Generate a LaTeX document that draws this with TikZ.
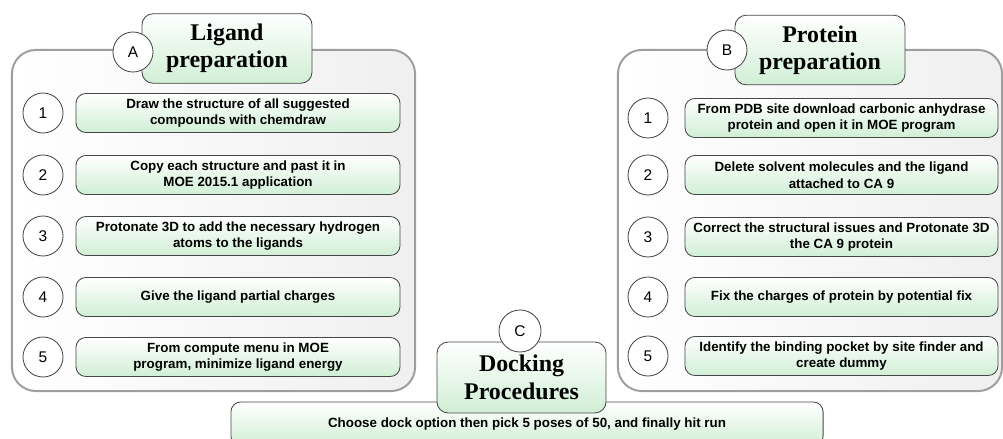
\documentclass[tikz,border=0pt]{standalone}
\usepackage{fontspec}
\setmainfont{Liberation Serif}
\setsansfont{Liberation Sans}
\usetikzlibrary{positioning}
\definecolor{mint}{RGB}{208,239,213}
\colorlet{panelR}{black!6}
\colorlet{rule}{black!72}
\colorlet{frame}{black!38}
\tikzset{
  panel/.style  ={draw=frame, line width=1.4pt, rounded corners=17pt,
                  left color=white, right color=panelR,
                  minimum width=#1, minimum height=8.525cm, inner sep=0pt},
  card/.style   ={draw=rule, rounded corners=7pt, line width=0.6pt,
                  top color=white, bottom color=mint, inner sep=0pt,
                  align=center},
  stepbox/.style={card, minimum width=#1, minimum height=0.975cm,
                  font=\sffamily\bfseries\fontsize{9.5}{11.7}\selectfont},
  head/.style   ={card, minimum width=4.25cm, minimum height=1.74cm,
                  rounded corners=8pt,
                  font=\rmfamily\bfseries\fontsize{17}{19.5}\selectfont},
  num/.style    ={draw=rule, circle, fill=white, line width=0.6pt,
                  minimum size=1cm, inner sep=0pt,
                  font=\sffamily\fontsize{11}{12}\selectfont},
}

\begin{document}
\begin{tikzpicture}[x=0.025cm, y=-0.025cm]

\useasboundingbox (0,0) rectangle (1003,439);
\clip (0,0) rectangle (1003,439);

% two panels
\node[panel=10.075cm] (PA) at (213.5, 220.5) {};
\node[panel=9.6cm]    (PB) at (810, 220.5) {};

% panel A -- ligand preparation
\node[num] (A1) at (43, 113) {1};
\node[stepbox=8.1cm] (SA1) at (238, 113)
  {Draw the structure of all suggested\\ compounds with chemdraw};
\node[num] (A2) at (43, 175) {2};
\node[stepbox=8.1cm] (SA2) at (238, 175)
  {Copy each structure and past it in\\ MOE 2015.1 application};
\node[num] (A3) at (43, 236) {3};
\node[stepbox=8.1cm] (SA3) at (238, 236)
  {Protonate 3D to add the necessary hydrogen\\ atoms to the ligands};
\node[num] (A4) at (43, 297) {4};
\node[stepbox=8.1cm] (SA4) at (238, 297)
  {Give the ligand partial charges};
\node[num] (A5) at (43, 357) {5};
\node[stepbox=8.1cm] (SA5) at (238, 357)
  {From compute menu in MOE\\ program, minimize ligand energy};

\node[head] (HA) at (227, 48.5) {Ligand\\ preparation};
\node[num]  (CA) at (133, 52) {A};

% panel B -- protein preparation
\node[num] (B1) at (648, 118) {1};
\node[stepbox=7.825cm] (SB1) at (841.5, 118)
  {From PDB site download carbonic anhydrase\\ protein and open it in MOE program};
\node[num] (B2) at (648, 175) {2};
\node[stepbox=7.825cm] (SB2) at (841.5, 175)
  {Delete solvent molecules and the ligand\\ attached to CA 9};
\node[num] (B3) at (648, 237) {3};
\node[stepbox=7.825cm] (SB3) at (841.5, 237)
  {Correct the structural issues and Protonate 3D\\ the CA 9 protein};
\node[num] (B4) at (648, 297) {4};
\node[stepbox=7.825cm] (SB4) at (841.5, 297)
  {Fix the charges of protein by potential fix};
\node[num] (B5) at (648, 356) {5};
\node[stepbox=7.825cm] (SB5) at (841.5, 356)
  {Identify the binding pocket by site finder and\\ create dummy};

\node[head] (HB) at (820, 50) {Protein\\ preparation};
\node[num]  (CB) at (727, 50) {B};

% docking
\node[stepbox=14.8cm, minimum height=1.1cm] (DK) at (527, 424)
  {Choose dock option then pick 5 poses of 50, and finally hit run};
\node[head, minimum width=4.225cm, minimum height=1.775cm] (HC) at (521.5, 377.5)
  {Docking\\ Procedures};
\node[num, minimum size=1.05cm] (CC) at (520, 331) {C};

\end{tikzpicture}
\end{document}
